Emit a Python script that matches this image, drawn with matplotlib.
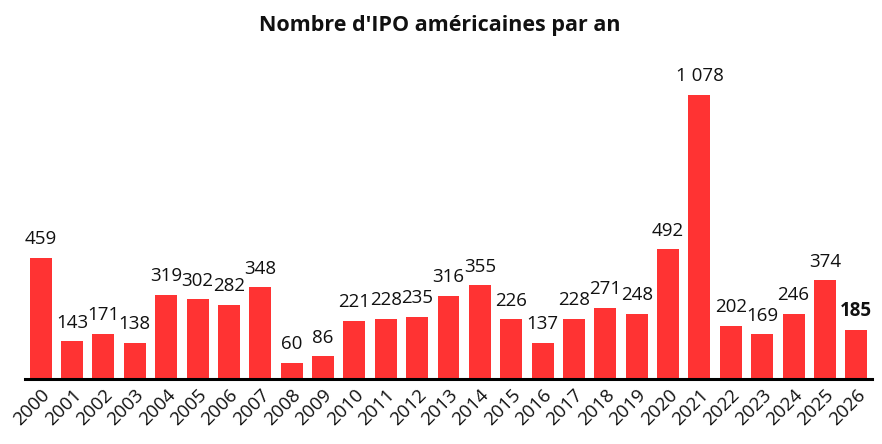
import matplotlib
matplotlib.use("Agg")
import matplotlib.pyplot as plt

years = [str(y) for y in range(2000, 2027)]
ipos = [459, 143, 171, 138, 319, 302, 282, 348, 60, 86, 221, 228, 235, 316, 355,
        226, 137, 228, 271, 248, 492, 1078, 202, 169, 246, 374, 185]
title = "Nombre d'IPO américaines par an"

plt.rcParams['font.family'] = ['Open Sans', 'DejaVu Sans']

fig = plt.figure(figsize=(8.82, 4.44), dpi=100)
ax = fig.add_axes([25/882, (444-379)/444, (872-25)/882, (379-60)/444])

x = list(range(len(years)))
ax.bar(x, ipos, width=0.7, color='#ff3333', zorder=2)

def fmt(v):
    return f"{v:,}".replace(",", " ")

for i, v in enumerate(ipos):
    last = (i == len(ipos) - 1)
    ax.annotate(fmt(v), (i, v), xytext=(0, 7), textcoords='offset points',
                ha='center', va='bottom', fontsize=13.5, color='#111111',
                fontweight='bold' if last else 'normal')

ax.set_xlim(-0.5, len(years) - 0.5)
ax.set_ylim(0, 1078 * 319 / 284)
ax.set_xticks(x)
ax.set_xticklabels(years, rotation=45, ha='right', rotation_mode='anchor',
                   fontsize=13.5, color='#111111')
ax.tick_params(axis='x', length=0, pad=5)
ax.set_yticks([])
for s in ['top', 'right', 'left']:
    ax.spines[s].set_visible(False)
ax.spines['bottom'].set_linewidth(2.2)
ax.spines['bottom'].set_color('black')

fig.text(440/882, 1 - 25/444, title, ha='center', va='center', fontsize=15.5,
         fontweight='bold', color='#111111')

fig.savefig("out.png", dpi=100)
